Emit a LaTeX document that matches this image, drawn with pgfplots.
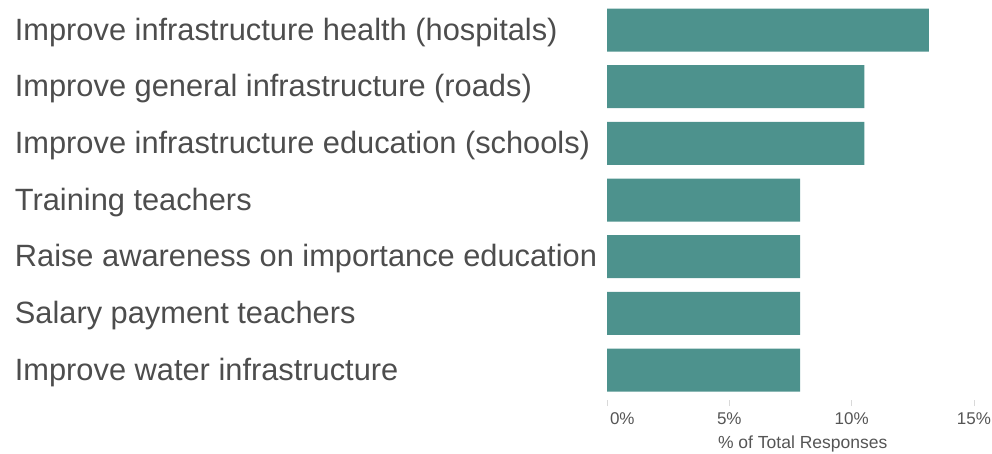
\documentclass[border=0pt]{standalone}
\usepackage{pgfplots}
\pgfplotsset{compat=1.18}
\usepackage{fontspec}
\setmainfont{Liberation Sans}
\definecolor{barc}{RGB}{77,146,141}
\definecolor{txt}{RGB}{77,77,77}
\definecolor{tck}{RGB}{85,85,85}
\begin{document}
\begin{tikzpicture}[x=1pt,y=1pt]
\path[use as bounding box] (0,0) rectangle (992,453);
\begin{axis}[
  at={(607pt,53pt)}, anchor=south west,
  scale only axis, width=391.4pt, height=398.3pt,
  xmin=0, xmax=16, ymin=-0.529, ymax=6.5,
  axis x line*=bottom, axis y line*=left,
  axis line style={draw=none},
  xtick={0,5,10,15},
  xticklabels={\makebox[0pt][l]{\hspace{3pt}0\%},5\%,10\%,15\%},
  tick align=outside, major tick length=6pt,
  x tick style={color=black!15, line width=0.8pt},
  ytick={0,...,6},
  yticklabels={Improve water infrastructure, Salary payment teachers, Raise awareness on importance education, Training teachers, Improve infrastructure education (schools), Improve general infrastructure (roads), Improve infrastructure health (hospitals)},
  y tick style={draw=none},
  yticklabel style={anchor=base west, xshift=-586.3pt, yshift=-10pt, inner xsep=0pt, font=\fontsize{30.8}{34}\selectfont, text=txt},
  xticklabel style={anchor=base, yshift=-18pt, font=\fontsize{17}{20}\selectfont, text=tck},
  xlabel={\% of Total Responses},
  xlabel style={at={(axis description cs:0.5,-0.123)}, anchor=base, font=\fontsize{17.5}{20}\selectfont, text=tck},
]
\addplot[xbar, fill=barc, draw=none, bar width=43pt] coordinates {
  (7.895,0) (7.895,1) (7.895,2) (7.895,3) (10.526,4) (10.526,5) (13.158,6)
};
\end{axis}
\end{tikzpicture}
\end{document}
